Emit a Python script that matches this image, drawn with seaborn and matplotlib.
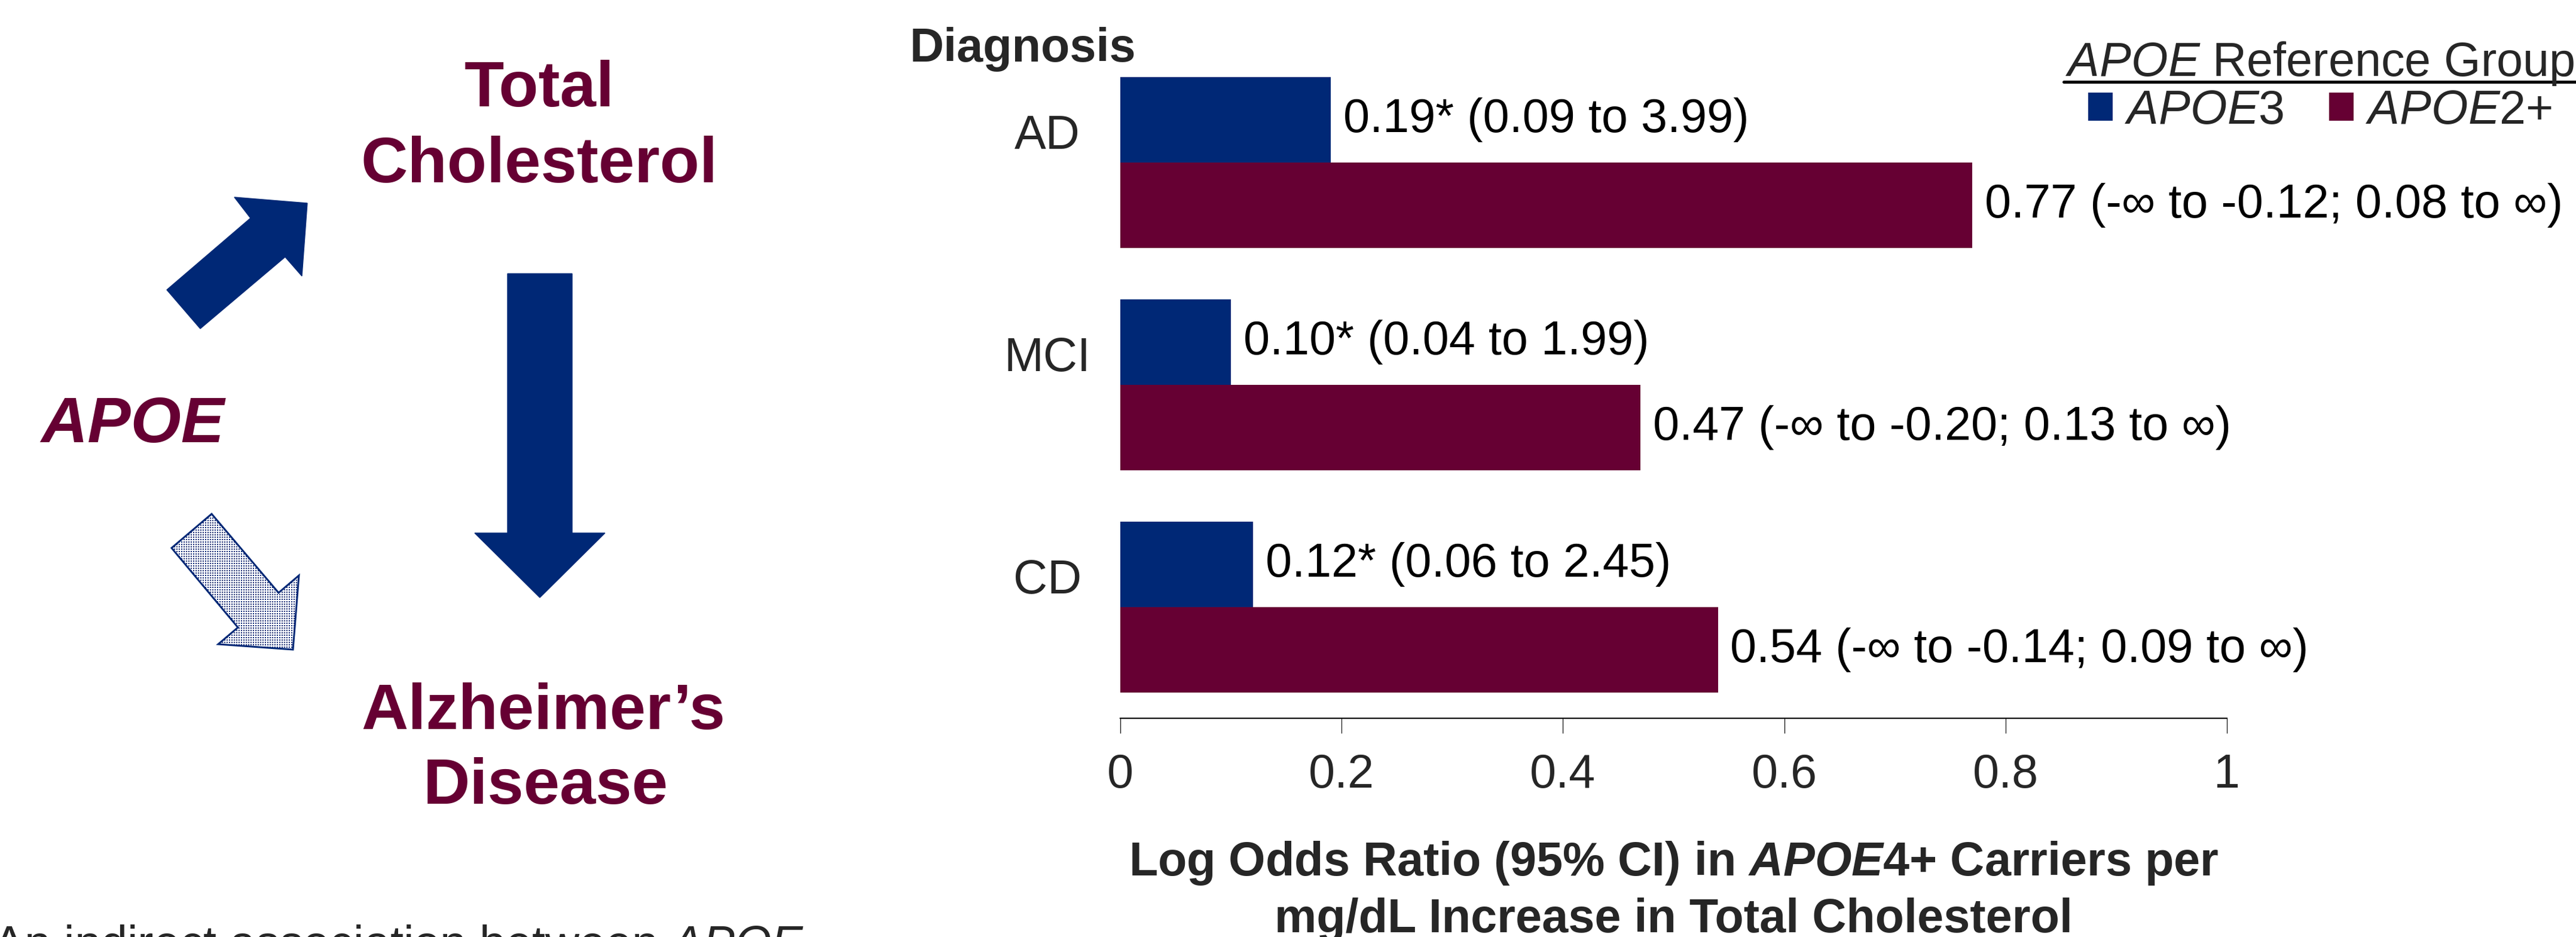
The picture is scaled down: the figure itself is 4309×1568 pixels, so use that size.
import numpy as np
import pandas as pd
import matplotlib
matplotlib.use("Agg")
import matplotlib.pyplot as plt
import seaborn as sns
from matplotlib.patches import Polygon
from matplotlib.lines import Line2D
from matplotlib.transforms import ScaledTranslation

# ---------------- data ----------------
diagnoses = ["AD", "MCI", "CD"]
groups = [r"$\mathit{APOE}$3", r"$\mathit{APOE}$2+"]
apoe3_values = [0.19, 0.10, 0.12]
apoe2_values = [0.77, 0.47, 0.54]
apoe3_labels = ["0.19* (0.09 to 3.99)", "0.10* (0.04 to 1.99)", "0.12* (0.06 to 2.45)"]
apoe2_labels = ["0.77 (-\u221e to -0.12; 0.08 to \u221e)",
                "0.47 (-\u221e to -0.20; 0.13 to \u221e)",
                "0.54 (-\u221e to -0.14; 0.09 to \u221e)"]
x_ticks = [0, 0.2, 0.4, 0.6, 0.8, 1.0]
x_ticklabels = ["0", "0.2", "0.4", "0.6", "0.8", "1"]

BLUE = "#002876"
MAROON = "#660033"

df = pd.DataFrame({
    "Diagnosis": diagnoses * 2,
    "Group": [groups[0]] * 3 + [groups[1]] * 3,
    "Value": apoe3_values + apoe2_values,
})

# ---------------- style ----------------
sns.set_style("white")
plt.rcParams["font.family"] = ["Liberation Sans", "DejaVu Sans"]
plt.rcParams["mathtext.fontset"] = "custom"
plt.rcParams["mathtext.rm"] = "Liberation Sans"
plt.rcParams["mathtext.it"] = "Liberation Sans:italic"
plt.rcParams["mathtext.bf"] = "Liberation Sans:bold"
plt.rcParams["mathtext.bfit"] = "Liberation Sans:italic:bold"

W, H = 4309, 1568
DPI = 100
fig = plt.figure(figsize=(W / DPI, H / DPI), dpi=DPI)

FS = 57      # chart text size (pt)
FSD = 78     # diagram text size (pt)

def fx(x):
    return x / W

def fy(y):
    return 1 - y / H

# ---------------- bar chart ----------------
ax = fig.add_axes([1874 / W, 1 - 1202 / H, (3725 - 1874) / W, (1202 - 86) / H])
sns.barplot(data=df, x="Value", y="Diagnosis", hue="Group", order=diagnoses,
            hue_order=groups, palette=[BLUE, MAROON], orient="h", width=0.77,
            saturation=1, linewidth=0, ax=ax)

for cont, labs in zip(ax.containers, [apoe3_labels, apoe2_labels]):
    ax.bar_label(cont, labels=labs, padding=15, fontsize=FS, color="black")

ax.set_xlim(0, 1)
ax.set_ylim(2.5, -0.5)
ax.set_xticks(x_ticks)
ax.set_xticklabels(x_ticklabels)
ax.set_ylabel("")
for s in ["left", "top", "right"]:
    ax.spines[s].set_visible(False)
ax.spines["bottom"].set_color("black")
ax.spines["bottom"].set_linewidth(1.6)
ax.tick_params(axis="x", direction="out", length=18, width=0.8, color="black",
               labelsize=FS, pad=24, bottom=True)
ax.tick_params(axis="y", length=0, labelsize=FS, pad=88)
ax.set_xlabel("Log Odds Ratio (95% CI) in $\\mathbfit{APOE}$4+ Carriers per\n"
              "mg/dL Increase in Total Cholesterol",
              fontsize=FS, fontweight="bold", linespacing=1.3)
ax.xaxis.set_label_coords(0.5, -0.182)

for lab in ax.get_yticklabels():
    lab.set_horizontalalignment("center")
    lab.set_transform(lab.get_transform() + ScaledTranslation(0, 0.52, fig.dpi_scale_trans))

fig.text(fx(1522), fy(103), "Diagnosis", fontsize=FS, fontweight="bold",
         ha="left", va="baseline")

# legend
sns.move_legend(ax, loc="center left", bbox_to_anchor=(fx(3493), fy(186)),
                bbox_transform=fig.transFigure, ncol=2, frameon=False,
                title=None, fontsize=FS, handlelength=0.52, handleheight=0.52,
                handletextpad=0.25, columnspacing=0.96, borderpad=0,
                borderaxespad=0)
fig.text(fx(3455), fy(127), "$\\mathit{APOE}$ Reference Group", fontsize=FS,
         ha="left", va="baseline")
fig.add_artist(Line2D([fx(3452), fx(4309)], [fy(137), fy(137)],
                      transform=fig.transFigure, color="black", lw=3.6))

# ---------------- diagram (overlay in pixel coordinates) ----------------
dax = fig.add_axes([0, 0, 1, 1], zorder=-1)
dax.set_xlim(0, W)
dax.set_ylim(H, 0)
dax.axis("off")
dax.patch.set_alpha(0)

fig.text(fx(902), fy(178), "Total", fontsize=FSD, fontweight="bold",
         color=MAROON, ha="center", va="baseline")
fig.text(fx(902), fy(305), "Cholesterol", fontsize=FSD, fontweight="bold",
         color=MAROON, ha="center", va="baseline")
fig.text(fx(68), fy(740), "APOE", fontsize=FSD, fontweight="bold",
         fontstyle="italic", color=MAROON, ha="left", va="baseline")
fig.text(fx(909), fy(1220), "Alzheimer\u2019s", fontsize=FSD, fontweight="bold",
         color=MAROON, ha="center", va="baseline")
fig.text(fx(913), fy(1345), "Disease", fontsize=FSD, fontweight="bold",
         color=MAROON, ha="center", va="baseline")

# up-right solid arrow
dax.add_patch(Polygon([(279, 485), (419, 365), (392, 330), (514, 340), (505, 462),
                       (477, 430), (335, 550)], closed=True,
                      facecolor=BLUE, edgecolor=BLUE, lw=1))
# down solid arrow
dax.add_patch(Polygon([(849, 458), (957, 458), (957, 892), (1012, 892), (903, 1000),
                       (794, 892), (849, 892)], closed=True,
                      facecolor=BLUE, edgecolor=BLUE, lw=1))
# down-right dotted arrow
dotted_pts = [(287, 917), (354, 860), (466, 992), (500, 963), (490, 1087),
              (365, 1078), (398, 1050)]
clip_poly = Polygon(dotted_pts, closed=True, facecolor="none", edgecolor="none",
                    transform=dax.transData)
gx, gy = np.meshgrid(np.arange(280, 505, 4.0), np.arange(855, 1092, 4.0))
dots = dax.scatter(gx.ravel(), gy.ravel(), s=1.6, marker="s", color=BLUE,
                   linewidths=0, zorder=2)
dots.set_clip_path(clip_poly)
dax.add_patch(Polygon(dotted_pts, closed=True, facecolor="none",
                      edgecolor=BLUE, lw=2.2, zorder=3))

# bottom caption (cut off by figure edge)
fig.text(fx(-12), fy(1605), "An indirect association between $\\mathit{APOE}$",
         fontsize=FS, ha="left", va="baseline")

fig.savefig("out.png", dpi=DPI)
